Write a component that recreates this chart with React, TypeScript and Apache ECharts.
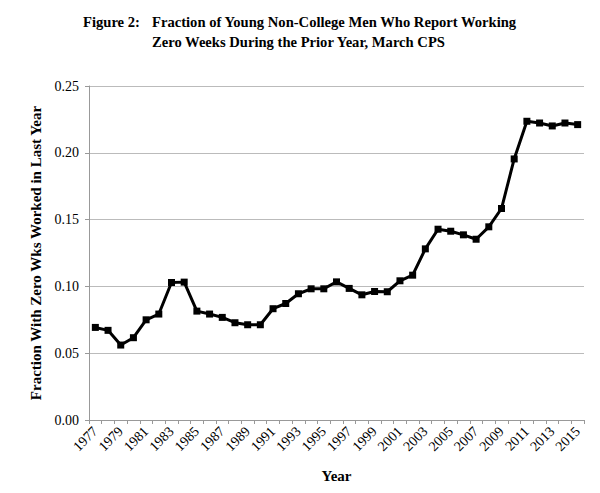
import React, { useEffect, useRef } from "react";
import * as echarts from "echarts";

const years: string[] = [];
for (let y = 1977; y <= 2015; y++) years.push(String(y));

const fractionZeroWeeks = [
  0.0693, 0.0671, 0.0561, 0.0616, 0.075, 0.0793, 0.1029, 0.1032, 0.0815, 0.0793,
  0.0768, 0.0728, 0.0713, 0.0713, 0.0833, 0.0872, 0.0945, 0.0982, 0.0982, 0.1034,
  0.0985, 0.0937, 0.0962, 0.096, 0.1042, 0.1084, 0.1281, 0.1428, 0.1413, 0.1386,
  0.1353, 0.1446, 0.1583, 0.1954, 0.2236, 0.2223, 0.2201, 0.2223, 0.2211,
];

const titleLabel = "Figure 2:";
const titleLine1 = "Fraction of Young Non-College Men Who Report Working";
const titleLine2 = "Zero Weeks During the Prior Year, March CPS";
const yAxisName = "Fraction With Zero Wks Worked in Last Year";
const xAxisName = "Year";

const SERIF = "'Liberation Serif', 'Times New Roman', serif";

export default function App() {
  const ref = useRef<HTMLDivElement>(null);
  useEffect(() => {
    if (!ref.current) return;
    const chart = echarts.init(ref.current, undefined, { renderer: "svg" });
    chart.setOption({
      animation: false,
      backgroundColor: "#ffffff",
      textStyle: { fontFamily: SERIF },
      graphic: [
        {
          type: "text",
          left: 83,
          top: 14,
          style: { text: titleLabel, font: `bold 14.6px ${SERIF}`, fill: "#000" },
        },
        {
          type: "text",
          left: 152,
          top: 14,
          style: { text: titleLine1, font: `bold 14.6px ${SERIF}`, fill: "#000" },
        },
        {
          type: "text",
          left: 152,
          top: 34,
          style: { text: titleLine2, font: `bold 14.6px ${SERIF}`, fill: "#000" },
        },
      ],
      grid: { left: 89, right: 16, top: 86, bottom: 73 },
      xAxis: {
        type: "category",
        data: years,
        boundaryGap: true,
        name: xAxisName,
        nameLocation: "middle",
        nameGap: 48,
        nameTextStyle: { fontFamily: SERIF, fontWeight: "bold", fontSize: 15, color: "#000" },
        axisLine: { lineStyle: { color: "#999", width: 1 } },
        axisTick: { show: true, interval: 0, length: 4, lineStyle: { color: "#999" } },
        axisLabel: {
          interval: 1,
          rotate: 45,
          fontSize: 14,
          margin: 9,
          color: "#000",
          fontFamily: SERIF,
        },
        splitLine: { show: false },
      },
      yAxis: {
        type: "value",
        min: 0,
        max: 0.25,
        interval: 0.05,
        name: yAxisName,
        nameLocation: "middle",
        nameGap: 42,
        nameTextStyle: { fontFamily: SERIF, fontWeight: "bold", fontSize: 15, color: "#000" },
        axisLine: { show: true, lineStyle: { color: "#999", width: 1 } },
        axisTick: { show: true, length: 4, lineStyle: { color: "#999" } },
        axisLabel: {
          fontSize: 14,
          margin: 10,
          color: "#000",
          fontFamily: SERIF,
          formatter: (v: number) => v.toFixed(2),
        },
        splitLine: { show: true, lineStyle: { color: "#bbbbbb", width: 1 } },
      },
      series: [
        {
          type: "line",
          data: fractionZeroWeeks,
          symbol: "rect",
          symbolSize: 7,
          lineStyle: { color: "#000", width: 3 },
          itemStyle: { color: "#000" },
        },
      ],
    });
    return () => chart.dispose();
  }, []);
  return (
    <div
      ref={ref}
      style={{ position: "fixed", left: 0, top: 0, width: 600, height: 493 }}
    />
  );
}
